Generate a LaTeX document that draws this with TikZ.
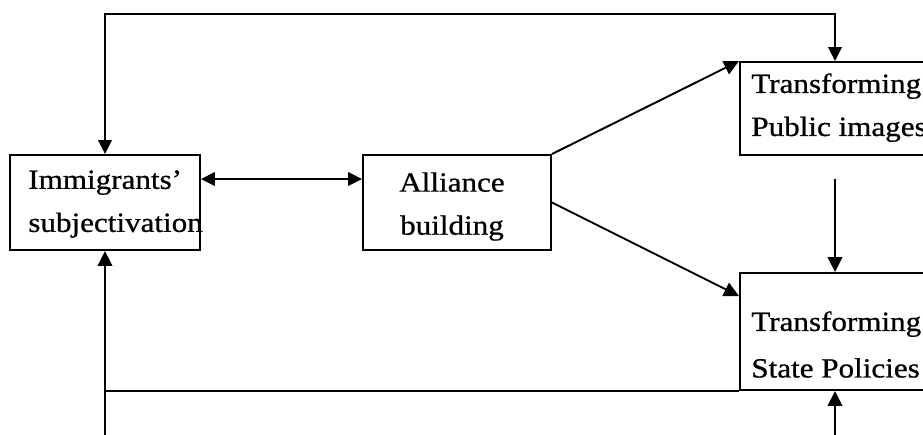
\documentclass[tikz,border=0pt]{standalone}
\usepackage{fontspec}
\setmainfont{Liberation Serif}[FakeStretch=1.12, FakeBold=0.8]
\usetikzlibrary{arrows.meta}
\tikzset{
  line/.style={draw=black, line width=1.1pt},
  arr/.style={line, -{Triangle[length=0.3cm, width=0.29cm]}},
  darr/.style={line, {Triangle[length=0.28cm, width=0.27cm]}-{Triangle[length=0.28cm, width=0.27cm]}},
  box/.style={draw=black, line width=1.1pt, inner sep=0pt},
  lbl/.style={inner sep=0pt, font=\fontsize{15.8}{24.5}\selectfont}
}

\begin{document}
\begin{tikzpicture}[x=0.02cm, y=-0.02cm]
  \clip (0,0) rectangle (923,434);

  \node[box, minimum width=3.8cm, minimum height=1.9cm] (imm) at (105,202.5) {};
  \node[box, minimum width=3.76cm, minimum height=1.9cm] (all) at (457,202.5) {};
  \node[box, minimum width=3.8cm, minimum height=1.86cm] (pub) at (835,108.5) {};
  \node[box, minimum width=3.8cm, minimum height=2.34cm] (st) at (835,331.5) {};

  \node[lbl, anchor=north west, align=left] (immT) at (28,170) {Immigrants'\\subjectivation};
  \node[lbl, anchor=north, align=center] (allT) at (452,172) {Alliance\\building};
  \node[lbl, anchor=north west, align=left] (pubT) at (751,73) {Transforming\\Public images};
  \node[lbl, anchor=north west, align=left] (stT) at (751,311) {Transforming\\[2pt]State Policies};

  \coordinate (top) at (0,14);
  \coordinate (bl) at (105,440);
  \coordinate (br) at (835,440);

  \draw[darr] (pub.north) -- (pub.north |- top) -| (imm.north);
  \draw[darr] ([yshift=0.47cm]imm.east) -- ([yshift=0.47cm]all.west);
  \draw[arr] (all.north east) -- (pub.north west);
  \draw[arr] (all.east) -- ([yshift=-0.48cm]st.north west);
  \draw[arr] ([yshift=-0.46cm]pub.south) -- (st.north);

  \draw[arr] (bl) -- (imm.south);
  \draw[line] (imm.south |- st.south) -- (st.south west);
  \draw[arr] (br) -- (st.south);
\end{tikzpicture}
\end{document}
